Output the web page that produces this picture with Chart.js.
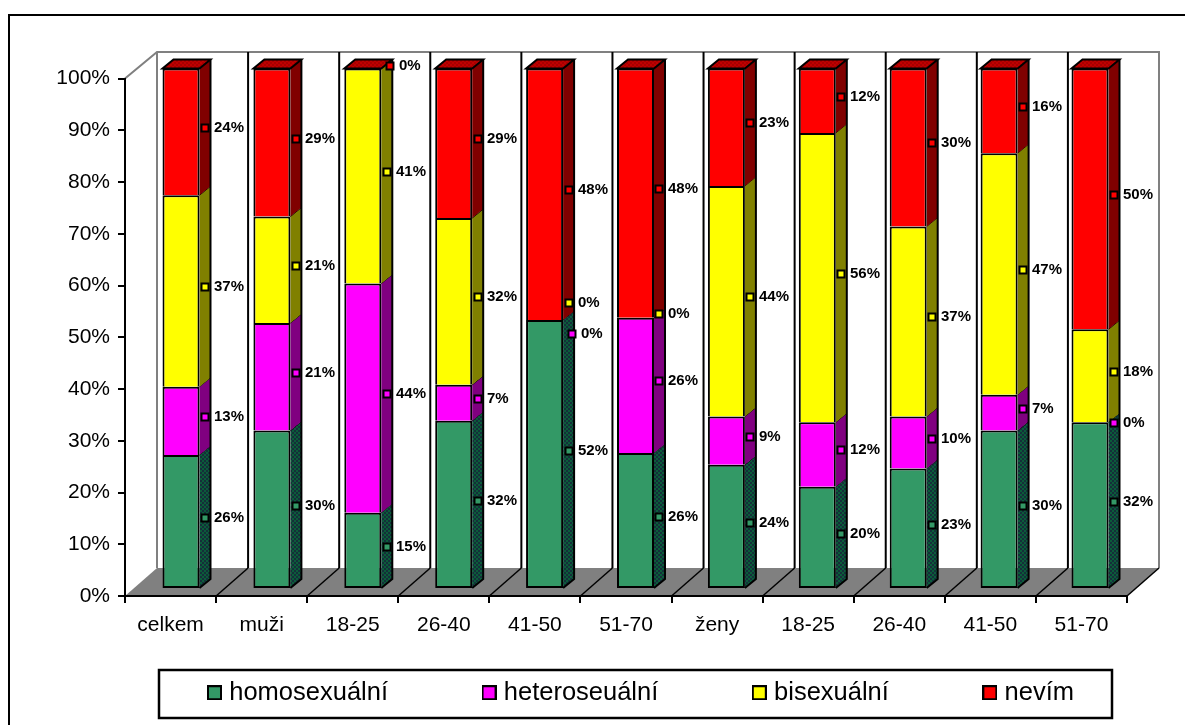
<!DOCTYPE html>
<html>
<head>
<meta charset="utf-8">
<style>html,body{margin:0;padding:0;background:#fff;overflow:hidden}canvas{display:block}</style>
<script src="https://cdn.jsdelivr.net/npm/chart.js@4/dist/chart.umd.min.js"></script>
</head>
<body>
<canvas id="c" width="1185" height="725"></canvas>
<script>
const categories = ['celkem','muži','18-25','26-40','41-50','51-70','ženy','18-25','26-40','41-50','51-70'];
const homosexualni = [25.6,30.3,14.5,32.2,51.6,26.0,23.7,19.5,23.0,30.3,31.9];
const heterosexualni = [13.15,20.7,44.1,6.9,0,26.0,9.3,12.4,10.0,6.9,0];
const bisexualni = [36.85,20.5,41.4,32.1,0,0,44.4,55.7,36.6,46.5,17.9];
const nevim = [24.4,28.5,0,28.8,48.4,48.0,22.6,12.4,30.4,16.3,50.2];
const seriesNames = ['homosexuální','heteroseuální','bisexuální','nevím'];
const tickStep = 10;

const FONT = '"Liberation Sans", Arial, sans-serif';
const FRONT = ['#339966','#ff00ff','#ffff00','#ff0000'];
const SIDE = [null,'#800080','#808000','#800000'];
const BAR_D = {x:11,y:9};
const WALL_D = {x:32,y:28};
// small corrections for the labels the original moved apart: "dataset:index" -> [dx,dy]
const labelNudges = {'1:4':[3,18],'2:4':[0,-13],'1:10':[0,5],'3:2':[3,2]};

function checker(a,b,s){
  const c=document.createElement('canvas');c.width=c.height=2*s;
  const x=c.getContext('2d');x.fillStyle=a;x.fillRect(0,0,2*s,2*s);
  x.fillStyle=b;x.fillRect(0,0,s,s);x.fillRect(s,s,s,s);
  return x.createPattern(c,'repeat');
}
const greenSide=checker('#0b5c3a','#14303a',2);
const topFace=checker('#c00000','#a80000',2);
function swatch(color){
  const c=document.createElement('canvas');c.width=c.height=15;
  const x=c.getContext('2d');x.fillStyle='#000';x.fillRect(0,0,15,15);
  x.fillStyle=color;x.fillRect(2,2,11,11);return c;
}
function poly(ctx,pts){ctx.beginPath();pts.forEach((p,i)=>i?ctx.lineTo(p[0],p[1]):ctx.moveTo(p[0],p[1]));ctx.closePath();}

const plugin3d={
  id:'plugin3d',
  beforeLayout(chart){
    const lg=chart.legend;
    if(lg&&!lg._patched){
      const orig=lg.fit;
      lg.fit=function(){orig.call(this);this.height=40;};
      lg._patched=true;
    }
  },
  afterLayout(chart){
    const lg=chart.legend;
    const pad=chart.options.plugins.legend.labels.padding;
    lg.left=212.5-pad; lg.top=680-pad; lg.right=1185; lg.bottom=725;
  },
  beforeDraw(chart){
    const {ctx}=chart,a=chart.chartArea,y=chart.scales.y,x=chart.scales.x;
    ctx.save();
    ctx.fillStyle='#fff';ctx.fillRect(0,0,1185,725);
    // outer frame
    ctx.strokeStyle='#000';ctx.lineWidth=2;
    ctx.beginPath();ctx.moveTo(1185,15);ctx.lineTo(9,15);ctx.lineTo(9,725);ctx.stroke();
    const yb=y.getPixelForValue(0),yt=y.getPixelForValue(100);
    const bl=a.left+WALL_D.x,br=a.right+WALL_D.x,bb=yb-WALL_D.y,bt=yt-WALL_D.y+1.5;
    // floor
    ctx.fillStyle='#808080';
    poly(ctx,[[a.left,yb],[bl,bb],[br,bb],[a.right,yb]]);ctx.fill();
    // back wall edges
    ctx.strokeStyle='#808080';ctx.lineWidth=2;
    ctx.beginPath();ctx.moveTo(a.left,yt);ctx.lineTo(bl,bt);ctx.lineTo(br,bt);ctx.lineTo(br,bb);
    ctx.moveTo(bl,bt);ctx.lineTo(bl,bb);ctx.stroke();
    // category dividers on wall and floor
    ctx.strokeStyle='#000';
    const n=categories.length;
    for(let i=1;i<=n;i++){
      const px=x.left+i*x.width/n;
      ctx.lineWidth=1.5;
      ctx.beginPath();ctx.moveTo(px,yb);ctx.lineTo(px+WALL_D.x,bb);ctx.stroke();
      if(i<n){ctx.lineWidth=2;ctx.beginPath();ctx.moveTo(px+WALL_D.x,bt);ctx.lineTo(px+WALL_D.x,bb);ctx.stroke();}
    }
    // legend frame
    ctx.strokeStyle='#000';ctx.lineWidth=2.5;ctx.fillStyle='#fff';
    ctx.fillRect(159,670,953,48);ctx.strokeRect(159,670,953,48);
    ctx.restore();
  },
  beforeDatasetsDraw(chart){
    const {ctx}=chart;
    const metas=chart.data.datasets.map((d,i)=>chart.getDatasetMeta(i));
    ctx.save();
    categories.forEach((c,i)=>{
      let topY=null,baseY=null,xr=0,xl=0;
      metas.forEach((m,ds)=>{
        const p=m.data[i].getProps(['x','y','base','width'],true);
        xr=p.x+p.width/2;xl=p.x-p.width/2;
        if(baseY===null)baseY=p.base;
        topY=p.y;
        ctx.fillStyle=ds===0?greenSide:SIDE[ds];
        poly(ctx,[[xr,p.y],[xr+BAR_D.x,p.y-BAR_D.y],[xr+BAR_D.x,p.base-BAR_D.y],[xr,p.base]]);ctx.fill();
        if(ds<metas.length-1&&p.y!==p.base){
          ctx.strokeStyle='#000';ctx.lineWidth=1;
          ctx.beginPath();ctx.moveTo(xr,p.y);ctx.lineTo(xr+BAR_D.x,p.y-BAR_D.y);ctx.stroke();
        }
      });
      ctx.fillStyle=topFace;
      poly(ctx,[[xl,topY],[xl+BAR_D.x,topY-BAR_D.y],[xr+BAR_D.x,topY-BAR_D.y],[xr,topY]]);ctx.fill();
      ctx.strokeStyle='#000';ctx.lineWidth=2;
      ctx.stroke();
      ctx.beginPath();
      ctx.moveTo(xr,baseY);ctx.lineTo(xr+BAR_D.x,baseY-BAR_D.y);
      ctx.lineTo(xr+BAR_D.x,topY-BAR_D.y);ctx.stroke();
    });
    ctx.restore();
  },
  afterDatasetsDraw(chart){
    const {ctx}=chart;
    ctx.save();
    ctx.font='bold 15px '+FONT;ctx.textBaseline='middle';ctx.textAlign='left';ctx.fillStyle='#000';
    chart.data.datasets.forEach((d,ds)=>{
      const m=chart.getDatasetMeta(ds);
      m.data.forEach((el,i)=>{
        const p=el.getProps(['x','y','base','width'],true);
        const n=labelNudges[ds+':'+i]||[0,0];
        const mx=Math.round(p.x+p.width/2+BAR_D.x/2+n[0]);
        const my=Math.round((p.y+p.base)/2-(ds===0?3:4)+n[1]);
        ctx.fillStyle='#000';ctx.fillRect(mx-4.5,my-4.5,9,9);
        ctx.fillStyle=FRONT[ds];ctx.fillRect(mx-2.5,my-2.5,5,5);
        ctx.fillStyle='#000';
        ctx.fillText(Math.round(d.data[i].y)+'%',mx+9,my);
      });
    });
    ctx.restore();
  }
};

const seriesValues=[homosexualni,heterosexualni,bisexualni,nevim];
const datasets=seriesValues.map((vals,ds)=>({
  label:seriesNames[ds],
  data:vals.map((v,i)=>({x:i,y:v})),
  xAxisID:'x2',yAxisID:'y2',stack:'s',
  backgroundColor:FRONT[ds],
  borderColor:'#000',
  borderWidth:{top:2,left:2,right:2,bottom:ds===0?2:0},
  borderSkipped:false,
  inflateAmount:0,
  barThickness:37,
  clip:false
}));

new Chart(document.getElementById('c'),{
  type:'bar',
  data:{labels:categories,datasets},
  plugins:[plugin3d],
  options:{
    responsive:false,animation:false,devicePixelRatio:1,
    layout:{padding:{top:78.5,left:0,right:58,bottom:0}},
    plugins:{
      tooltip:{enabled:false},
      legend:{
        position:'bottom',align:'start',
        labels:{
          font:{family:FONT,size:25.5},color:'#000',padding:99,
          usePointStyle:true,pointStyleWidth:4,
          generateLabels(chart){
            return Chart.defaults.plugins.legend.labels.generateLabels(chart)
              .map((l,i)=>Object.assign(l,{pointStyle:swatch(FRONT[i])}));
          }
        },
        onClick(){}
      }
    },
    scales:{
      x:{
        type:'category',offset:true,position:'bottom',
        grid:{offset:true,drawOnChartArea:false,color:'#000',lineWidth:2,tickLength:7,tickColor:'#000',drawTicks:true},
        border:{color:'#000',width:2},
        ticks:{font:{family:FONT,size:21},color:'#000',maxRotation:0,autoSkip:false,padding:10},
        afterFit(s){s.height=89;}
      },
      y:{
        type:'linear',position:'left',min:0,max:100,
        grid:{drawOnChartArea:false,color:'#000',lineWidth:2,tickLength:7,tickColor:'#000'},
        border:{color:'#000',width:2},
        ticks:{stepSize:tickStep,font:{family:FONT,size:21},color:'#000',padding:8,callback:v=>v+'%'},
        afterFit(s){s.width=125;}
      },
      x2:{type:'linear',display:false,stacked:true,offset:false,grid:{offset:false},min:-0.616,max:10.407},
      y2:{type:'linear',display:false,stacked:true,min:-1.54,max:98.07}
    }
  }
});
</script>
</body>
</html>
